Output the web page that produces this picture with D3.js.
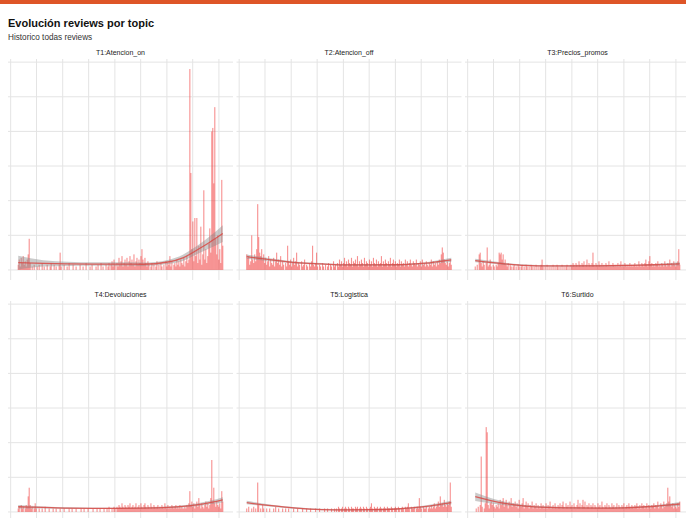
<!DOCTYPE html>
<html>
<head>
<meta charset="utf-8">
<script src="https://cdn.jsdelivr.net/npm/d3@7"></script>
<style>
  body { margin: 0; background: #fff; }
  svg { display: block; font-family: "Liberation Sans", Arial, sans-serif; }
</style>
</head>
<body>
<svg id="chart"></svg>
<script>
const width = 686,
      height = 518

// data
const topics = ["T1:Atencion_on", "T2:Atencion_off", "T3:Precios_promos", "T4:Devoluciones", "T5:Logistica", "T6:Surtido"]
const firstWeek = "2015-02-23"

const t1 = [3,6,2,7,4,8,3,5,2,6,9,18,4,0,2,0,3,0,0,2,
  0,3,0,0,4,0,2,0,0,3,0,0,2,4,0,0,3,0,2,0,
  0,3,10,2,0,0,3,0,0,2,0,4,0,0,0,3,0,0,2,0,
  0,0,3,0,0,2,0,0,4,0,0,0,2,0,3,0,0,0,2,0,
  3,0,0,4,0,2,0,0,3,0,2,4,0,3,5,2,6,3,0,4,
  2,7,3,5,8,2,4,6,3,7,2,5,8,4,6,3,9,2,5,7,
  3,6,4,8,12,6,3,7,4,2,5,3,0,2,4,0,3,0,2,5,
  0,3,0,4,2,0,3,0,5,2,4,3,8,2,5,0,3,4,2,6,
  3,5,2,6,4,3,7,2,5,8,4,6,116,56,12,28,5,30,8,30,
  4,14,6,25,3,9,46,6,12,4,8,15,24,10,80,82,50,94,18,9,
  20,6,12,4,52,14]

const t2 = [9,7,8,3,5,20,6,4,9,5,12,38,19,10,8,12,6,9,4,7,
  3,5,8,2,6,4,3,7,2,5,10,4,6,3,8,2,5,3,0,4,
  2,14,5,3,6,2,4,7,3,5,10,2,4,3,0,5,2,3,6,0,
  3,2,0,4,2,5,14,3,2,4,10,2,0,3,2,0,4,2,0,3,
  0,2,4,0,3,2,0,5,2,3,0,4,2,6,3,5,2,4,7,3,
  5,2,6,4,3,7,2,5,4,6,3,8,2,5,3,6,4,2,7,3,
  5,4,2,6,3,5,2,7,4,3,6,2,5,3,4,8,2,5,3,6,
  4,2,5,3,7,2,4,6,3,5,2,4,3,6,2,5,3,4,2,6,
  3,5,2,4,6,3,2,5,4,3,6,2,4,3,5,2,6,3,4,2,
  5,3,2,4,3,6,2,5,3,4,2,5,3,6,4,9,13,10,6,4,
  3,5,2,4,6,3]

const t3 = [2,0,3,0,9,10,4,2,5,3,0,4,13,2,3,6,2,0,3,2,
  0,3,2,4,10,9,10,6,9,4,6,3,2,4,0,3,2,0,2,3,
  0,2,0,3,2,0,2,3,0,2,0,3,2,0,2,0,3,2,0,2,
  0,3,0,2,0,2,3,6,2,0,2,0,3,0,2,0,2,0,3,0,
  2,0,3,2,0,2,0,3,0,2,0,2,3,0,2,0,3,2,4,3,
  2,4,3,2,5,3,2,4,3,5,2,3,6,2,4,3,2,4,10,3,
  2,4,3,2,5,3,2,4,2,3,2,4,3,2,5,2,3,2,4,3,
  2,3,2,4,2,3,5,2,3,2,4,3,2,3,2,4,2,3,2,3,
  4,2,3,2,5,3,2,4,3,2,4,6,3,2,5,8,3,4,2,3,
  2,4,3,5,2,3,2,4,3,2,5,3,2,4,3,6,2,4,3,5,
  3,2,4,5,12,3]

const t4 = [2,3,0,4,2,3,0,2,4,3,9,14,4,2,3,0,2,5,2,0,
  0,2,0,0,2,0,0,3,0,0,0,2,0,0,0,2,0,0,2,0,
  0,0,2,0,0,0,2,0,0,0,0,2,0,0,2,0,0,0,2,0,
  0,0,0,2,0,0,2,0,0,0,2,0,0,0,0,2,0,0,0,2,
  0,0,2,0,0,0,2,0,0,2,0,3,0,0,2,0,3,2,0,3,
  2,4,3,2,5,3,2,4,3,2,4,3,5,2,3,4,2,3,5,2,
  3,4,2,5,3,2,4,5,3,2,4,3,2,5,3,2,4,3,2,3,
  4,2,3,2,4,3,2,5,3,2,4,2,3,2,4,3,2,3,4,2,
  3,2,4,2,3,2,2,3,2,4,3,5,12,4,6,3,5,2,4,6,
  3,8,4,2,5,3,2,4,6,3,5,2,4,8,30,6,14,5,3,6,
  4,3,5,2,12,6]

const t5 = [2,0,3,0,0,2,0,3,0,2,0,17,4,0,2,0,4,2,0,0,
  2,0,0,2,0,0,0,2,0,3,0,0,2,0,0,0,2,0,0,2,
  0,0,2,0,0,0,0,2,0,0,0,2,0,0,0,0,2,0,0,0,
  2,0,0,0,2,0,0,0,0,2,0,0,0,2,0,0,0,0,2,0,
  0,2,0,0,0,2,0,0,2,0,2,0,3,2,0,2,3,0,2,3,
  2,0,3,2,0,3,2,2,0,3,2,3,0,2,3,2,0,3,2,0,
  3,2,0,2,3,5,2,0,3,2,2,3,0,2,3,2,0,2,3,2,
  0,3,2,2,0,3,2,0,2,3,2,0,3,2,0,2,3,2,0,3,
  2,3,5,2,0,3,2,2,3,0,2,3,2,8,3,2,0,3,2,2,
  3,0,2,3,2,4,2,3,5,2,3,4,6,3,9,4,5,3,7,4,
  3,5,4,6,17,3]

const t6 = [0,2,0,3,0,4,32,3,0,2,5,49,46,4,2,5,6,4,5,3,
  2,4,3,5,2,7,4,6,8,3,5,7,4,2,6,4,8,3,5,4,
  6,3,5,2,7,4,3,5,8,2,4,6,3,5,2,4,3,6,2,4,
  3,5,2,4,3,2,5,3,4,2,3,5,2,4,3,6,2,3,4,2,
  5,3,2,4,3,5,2,4,6,3,2,5,3,4,2,6,3,4,2,5,
  3,2,4,7,3,5,2,4,7,3,6,2,4,3,5,2,4,3,5,2,
  4,3,2,5,3,4,2,6,3,2,4,3,5,2,4,3,2,5,3,4,
  2,3,5,2,4,3,2,4,3,5,2,3,4,2,5,3,2,4,3,2,
  4,3,5,2,3,4,2,5,3,4,2,3,5,2,4,3,2,4,3,5,
  2,4,3,6,2,3,5,4,2,6,3,4,5,14,6,9,4,3,5,2,
  4,3,2,5,3,6]

// smooth (loess), at these week indexes
const smoothWeeks = [0, 25, 50, 75, 100, 125, 150, 165, 180, 192, 205]
const smoothT1 = [4.2, 3.8, 3.5, 3.4, 3.4, 3.3, 4.6, 7, 11.8, 16, 21]
const seT1 =     [4, 1.8, 1.2, 1, 1, 1, 1.2, 1.8, 2.4, 3.4, 4.8]
const smoothT2 = [7.7, 5.8, 4.2, 3.5, 2.9, 2.9, 3, 3.4, 3.9, 4.8, 5.8]
const seT2 =     [1.2, 0.8, 0.6, 0.5, 0.5, 0.5, 0.5, 0.5, 0.6, 0.8, 1.2]
const smoothT3 = [5.4, 3.8, 2.6, 2.3, 2.3, 2.4, 2.6, 2.8, 3, 3.2, 3.5]
const seT3 =     [1, 0.6, 0.5, 0.4, 0.4, 0.4, 0.4, 0.4, 0.5, 0.6, 0.9]
const smoothT4 = [3, 2.6, 2.2, 2.1, 2.1, 2.2, 2.6, 3.2, 4.2, 5.4, 7]
const seT4 =     [1, 0.6, 0.5, 0.4, 0.4, 0.4, 0.5, 0.6, 0.8, 1, 1.5]
const smoothT5 = [5.4, 3.6, 2.2, 1.4, 1.2, 1.3, 1.7, 2.3, 3.2, 4.2, 5.4]
const seT5 =     [1, 0.6, 0.5, 0.4, 0.4, 0.4, 0.4, 0.5, 0.6, 0.8, 1.1]
const smoothT6 = [8.8, 5.4, 3.4, 2.6, 2.3, 2.2, 2.4, 2.8, 3.3, 3.9, 4.6]
const seT6 =     [2.5, 1.2, 0.6, 0.5, 0.4, 0.4, 0.4, 0.5, 0.6, 0.8, 1.1]

const series = [t1, t2, t3, t4, t5, t6],
      smooths = [smoothT1, smoothT2, smoothT3, smoothT4, smoothT5, smoothT6],
      ses = [seT1, seT2, seT3, seT4, seT5, seT6]

// layout
const colLeft = [8, 236.5, 465],
      rowTop = [59, 301],
      panelW = 225,
      panelH = 221

const start = d3.timeParse("%Y-%m-%d")(firstWeek)
const weekDate = (i) => d3.timeDay.offset(start, i * 7)

const nWeeks = d3.max(series, (s) => s.length)
const first = weekDate(0), last = weekDate(nWeeks - 1)
const xPad = (last - first) * 0.05

const x = d3.scaleTime()
  .domain([new Date(+first - xPad), new Date(+last + xPad)])
  .range([0, panelW])

const yMax = d3.max(series, (s) => d3.max(s))
const y = d3.scaleLinear()
  .domain([-yMax * 0.05, yMax * 1.05])
  .range([panelH, 0])

const svg = d3.select("#chart")
  .attr("width", width)
  .attr("height", height)

svg.append("rect")
  .attr("width", width)
  .attr("height", height)
  .attr("fill", "#fff")

svg.append("rect")
  .attr("width", width)
  .attr("height", 4)
  .attr("fill", "#de5527")

svg.append("text")
  .attr("x", 8)
  .attr("y", 26.5)
  .style("font-size", "11px")
  .style("font-weight", "bold")
  .attr("fill", "#111")
  .text("Evolución reviews por topic")

svg.append("text")
  .attr("x", 8)
  .attr("y", 39.5)
  .style("font-size", "8.2px")
  .attr("fill", "#333")
  .text("Historico todas reviews")

const area = d3.area()
  .x((d) => x(d.date))
  .y0((d) => y(d.s - d.se))
  .y1((d) => y(d.s + d.se))
  .curve(d3.curveMonotoneX)

const line = d3.line()
  .x((d) => x(d.date))
  .y((d) => y(d.s))
  .curve(d3.curveMonotoneX)

topics.forEach((topic, k) => {
  const g = svg.append("g")
    .attr("transform", `translate(${colLeft[k % 3]},${rowTop[Math.floor(k / 3)]})`)

  // grid
  g.selectAll(".gx")
    .data(x.ticks(d3.timeMonth.every(6)))
    .enter()
    .append("line")
      .attr("x1", (d) => x(d)).attr("x2", (d) => x(d))
      .attr("y1", 0).attr("y2", panelH)
      .attr("stroke", "#e4e4e4")
      .attr("stroke-width", 1)

  g.selectAll(".gy")
    .data(y.ticks(6))
    .enter()
    .append("line")
      .attr("x1", 0).attr("x2", panelW)
      .attr("y1", (d) => y(d)).attr("y2", (d) => y(d))
      .attr("stroke", "#e4e4e4")
      .attr("stroke-width", 1)

  g.append("text")
    .attr("x", panelW / 2)
    .attr("y", -4)
    .attr("text-anchor", "middle")
    .style("font-size", "7px")
    .attr("fill", "#222")
    .text(topic)

  const values = series[k].map((v, i) => ({ date: weekDate(i), v: v }))

  g.append("g")
    .selectAll("rect")
    .data(values.filter((d) => d.v > 0))
    .enter()
    .append("rect")
      .attr("x", (d) => x(d.date) - 0.55)
      .attr("width", 1.1)
      .attr("y", (d) => y(d.v))
      .attr("height", (d) => y(0) - y(d.v))
      .attr("fill", "#f03535")
      .attr("fill-opacity", 0.55)

  const sm = smoothWeeks.map((w, i) => ({ date: weekDate(w), s: smooths[k][i], se: ses[k][i] }))

  g.append("path")
    .datum(sm)
    .attr("d", area)
    .attr("fill", "#8c8c8c")
    .attr("fill-opacity", 0.45)

  g.append("path")
    .datum(sm)
    .attr("d", line)
    .attr("fill", "none")
    .attr("stroke", "#d94a45")
    .attr("stroke-opacity", 0.85)
    .attr("stroke-width", 1.3)
})
</script>
</body>
</html>
